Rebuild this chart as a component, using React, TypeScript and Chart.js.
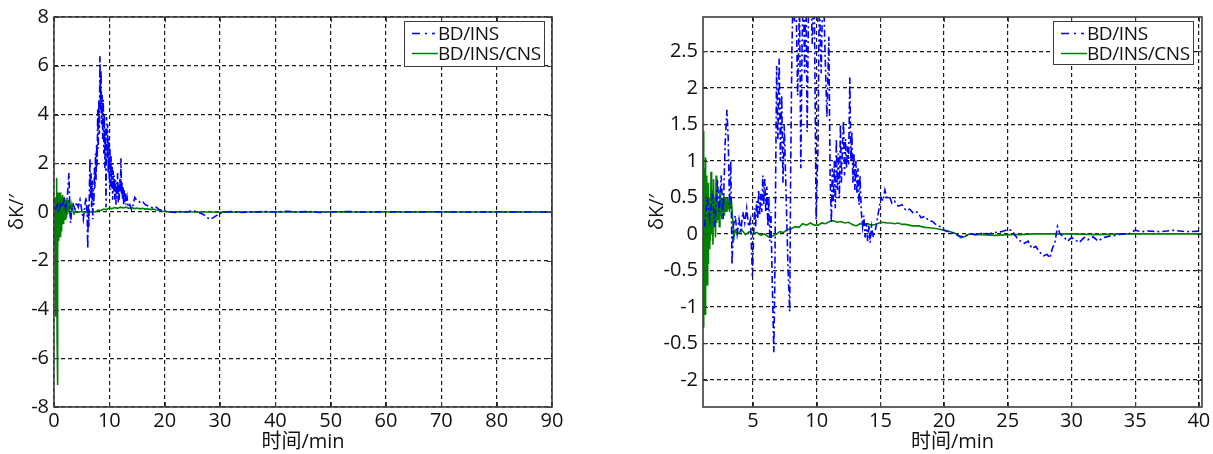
import React, { useEffect, useRef } from 'react';
import { Chart, registerables } from 'chart.js';

Chart.register(...registerables);

// ---------- Left chart data (0-90 min) ----------
const leftXTicks = [0, 10, 20, 30, 40, 50, 60, 70, 80, 90];
const leftYTicks = [-8, -6, -4, -2, 0, 2, 4, 6, 8];
const leftYTickLabels = ['-8', '-6', '-4', '-2', '0', '2', '4', '6', '8'];

const leftInsT = [0.3, 0.6, 0.9, 1.2, 1.5, 1.8, 2.1, 2.4, 2.7, 2.85, 3.0, 3.2, 3.5, 3.8, 4.1, 4.4, 4.7, 5.0, 5.3, 5.6, 5.8, 6.0, 6.1, 6.2, 6.3, 6.4, 6.5, 6.6, 6.7, 6.8, 6.9, 7.0, 7.1, 7.2, 7.3, 7.4, 7.5, 7.6, 7.7, 7.8, 7.9, 8.0, 8.1, 8.2, 8.3, 8.4, 8.5, 8.6, 8.7, 8.8, 8.9, 9.0, 9.1, 9.2, 9.3, 9.4, 9.5, 9.6, 9.7, 9.8, 9.9, 10.0, 10.1, 10.2, 10.3, 10.4, 10.5, 10.6, 10.7, 10.8, 10.9, 11.0, 11.1, 11.2, 11.3, 11.4, 11.5, 11.6, 11.7, 11.8, 11.9, 12.0, 12.1, 12.2, 12.3, 12.4, 12.5, 12.6, 12.7, 12.8, 12.9, 13.0, 13.2, 13.4, 13.7, 14.0, 14.3, 14.6, 14.9, 15.3, 15.7, 16.1, 16.5, 17, 17.5, 18, 18.5, 19, 19.5, 20, 21, 22, 23, 24, 25, 26, 27, 27.8, 28.3, 29, 30, 31, 32, 34, 36, 38, 40, 42, 44, 46, 48, 50, 53, 56, 60, 64, 68, 72, 76, 80, 84, 88, 90];
const leftInsV = [0.1, 0.3, 0.0, 0.4, 0.2, 0.5, 0.1, 0.6, 1.6, 0.3, -0.45, 0.1, 0.3, 0.1, 0.4, 0.2, 0.5, 0.1, -0.3, 0.3, 0.6, -0.2, -1.5, 0.3, -0.6, 1.0, 2.2, 0.6, 1.6, 0.2, 1.3, -0.3, 0.9, 0.3, 1.8, 1.0, 2.4, 1.3, 2.8, 1.9, 4.2, 2.6, 4.6, 3.2, 6.4, 4.2, 5.8, 3.6, 4.8, 3.0, 4.6, 2.4, 4.0, 1.8, 3.4, 0.2, 3.9, 2.2, 3.6, 1.6, 3.0, 1.2, 2.6, 0.9, 2.3, 1.0, 2.0, 0.5, 1.7, 0.8, 1.5, 0.5, 1.3, 0.3, 1.2, 0.6, 1.6, 0.4, 1.1, 0.5, 1.4, 0.8, 2.2, 0.7, 1.2, 0.5, 1.0, 0.3, 0.9, 0.4, 0.8, 0.3, 0.6, 0.2, 0.3, 0.1, 0.3, 0.6, 0.5, 0.45, 0.35, 0.4, 0.3, 0.25, 0.2, 0.15, 0.2, 0.1, 0.08, 0.05, 0.0, -0.02, 0.02, 0.0, 0.05, 0.0, -0.1, -0.25, -0.3, -0.2, -0.05, 0.0, 0.02, -0.02, 0.0, 0.02, 0.0, 0.03, 0.0, 0.02, -0.02, 0.0, 0.02, 0.0, 0.01, 0.0, 0.01, 0.0, 0.0, 0.01, 0.0, 0.0, 0.0];

const leftCnsT = [0.04, 0.08, 0.12, 0.16, 0.2, 0.24, 0.28, 0.32, 0.36, 0.4, 0.44, 0.48, 0.52, 0.56, 0.6, 0.64, 0.68, 0.72, 0.76, 0.8, 0.85, 0.9, 0.95, 1.0, 1.05, 1.1, 1.15, 1.2, 1.25, 1.3, 1.35, 1.4, 1.45, 1.5, 1.55, 1.6, 1.65, 1.7, 1.75, 1.8, 1.85, 1.9, 1.95, 2.0, 2.05, 2.1, 2.15, 2.2, 2.25, 2.3, 2.35, 2.4, 2.45, 2.5, 2.55, 2.6, 2.7, 2.8, 2.9, 3.0, 3.1, 3.2, 3.3, 3.45, 3.6, 3.8, 4, 5, 6, 6.5, 7, 7.5, 8, 8.5, 9, 9.5, 10, 10.5, 11, 11.5, 12, 12.5, 13, 13.5, 14, 14.5, 15, 15.5, 16, 16.5, 17, 17.5, 18, 18.5, 19, 19.5, 20, 21, 23, 25, 28, 30, 35, 40, 50, 60, 70, 80, 90];
const leftCnsV = [0.6, -1.3, 0.5, -1.4, 0.4, -2.6, 0.2, -4.3, -0.8, 0.6, -2.0, 0.9, 1.4, -5.2, 0.7, -7.1, 0.4, -1.6, 0.8, -1.2, 0.7, -1.0, 0.8, -0.9, 0.6, -1.0, 0.7, -0.7, 0.8, -0.6, 0.5, -0.8, 0.6, -0.5, 0.7, -0.4, 0.5, -0.5, 0.6, -0.3, 0.5, -0.2, 0.6, -0.3, 0.5, -0.1, 0.5, -0.2, 0.4, 0.0, 0.5, -0.1, 0.4, 0.1, 0.5, 0.0, 0.4, 0.1, 0.35, 0.1, 0.3, 0.15, 0.25, 0.0, -0.05, 0.0, -0.02, 0.02, -0.03, 0.0, 0.02, 0.0, 0.08, 0.06, 0.12, 0.1, 0.16, 0.14, 0.18, 0.15, 0.2, 0.17, 0.2, 0.15, 0.18, 0.14, 0.16, 0.13, 0.15, 0.12, 0.13, 0.1, 0.12, 0.08, 0.07, 0.04, 0.02, 0.0, 0.01, 0.0, 0.0, -0.01, 0.0, 0.0, 0.0, 0.0, 0.0, 0.0, 0.0];

// ---------- Right chart data (1-40 min) ----------
const rightXTicks = [5, 10, 15, 20, 25, 30, 35, 40];
const rightYTicks = [-2, -1.5, -1, -0.5, 0, 0.5, 1, 1.5, 2, 2.5];
const rightYTickLabels = ['-2', '-0.5', '-1', '-0.5', '0', '0.5', '1', '1.5', '2', '2.5'];

const rightInsT = [1.2, 1.4, 1.6, 1.8, 2.0, 2.2, 2.35, 2.5, 2.65, 2.8, 2.95, 3.05, 3.15, 3.25, 3.35, 3.45, 3.6, 3.75, 3.9, 4.05, 4.2, 4.35, 4.5, 4.65, 4.8, 4.95, 5.05, 5.12, 5.2, 5.28, 5.36, 5.44, 5.52, 5.6, 5.68, 5.76, 5.84, 5.92, 6.0, 6.08, 6.16, 6.24, 6.32, 6.4, 6.5, 6.63, 6.7, 6.78, 6.85, 6.95, 7.05, 7.15, 7.25, 7.35, 7.45, 7.6, 7.75, 7.88, 7.95, 8.05, 8.15, 8.25, 8.35, 8.5, 8.65, 8.75, 8.85, 8.95, 9.05, 9.15, 9.25, 9.35, 9.5, 9.65, 9.8, 9.95, 10.1, 10.2, 10.35, 10.5, 10.65, 10.8, 10.95, 11.05, 11.15, 11.22, 11.3, 11.38, 11.46, 11.54, 11.62, 11.7, 11.78, 11.86, 11.94, 12.02, 12.1, 12.18, 12.26, 12.34, 12.42, 12.5, 12.6, 12.68, 12.76, 12.84, 12.92, 13.0, 13.08, 13.16, 13.24, 13.32, 13.4, 13.5, 13.6, 13.7, 13.8, 13.9, 14.0, 14.1, 14.2, 14.3, 14.45, 14.6, 14.75, 14.9, 15.05, 15.2, 15.35, 15.5, 15.7, 15.9, 16.1, 16.4, 16.7, 17.0, 17.3, 17.6, 17.9, 18.2, 18.5, 18.8, 19.1, 19.4, 19.7, 20.0, 20.4, 20.8, 21.2, 21.5, 22.0, 22.5, 23.0, 23.5, 24.0, 24.5, 25.0, 25.3, 25.7, 26.0, 26.3, 26.6, 26.9, 27.2, 27.5, 27.8, 28.1, 28.3, 28.5, 28.7, 28.9, 29.1, 29.4, 29.7, 30.0, 30.3, 30.6, 31.0, 31.3, 31.7, 32.1, 32.5, 33.0, 33.5, 34.0, 34.5, 35.0, 35.5, 36.0, 37, 38, 39, 40.2];
const rightInsV = [0.1, 0.5, 0.2, 0.55, 0.1, 0.75, 0.3, 0.8, 0.2, 1.2, 1.7, 1.3, 0.4, 1.0, -0.42, 0.1, 0.25, 0.0, 0.2, 0.05, 0.3, 0.15, 0.35, 0.1, 0.2, -0.58, 0.0, 0.35, 0.1, 0.45, 0.2, 0.6, 0.25, 0.55, 0.3, 0.8, 0.4, 0.75, 0.3, 0.65, 0.1, 0.5, -0.1, 0.3, -0.6, -1.62, -0.8, 0.9, 2.3, 1.3, 2.4, 1.0, 1.9, 0.7, 1.5, 0.5, -0.5, -1.06, 0.8, 2.5, 3.4, 2.9, 3.5, 1.9, 3.2, 0.9, 2.6, 3.4, 2.2, 3.5, 1.4, 3.0, 3.6, 2.6, 3.5, 0.2, 1.2, 3.3, 2.2, 3.6, 2.5, 1.6, 2.7, 0.8, 0.15, 0.9, 0.45, 1.0, 0.35, 1.3, 0.6, 1.1, 0.5, 1.5, 0.7, 1.2, 1.55, 0.8, 1.3, 0.9, 1.2, 0.95, 2.14, 1.0, 1.4, 0.7, 1.1, 0.6, 1.0, 0.55, 0.9, 0.4, 0.8, 0.3, 0.1, 0.25, -0.05, 0.15, -0.1, 0.12, -0.12, 0.1, -0.05, 0.05, 0.2, 0.35, 0.5, 0.45, 0.6, 0.5, 0.52, 0.42, 0.45, 0.38, 0.4, 0.32, 0.34, 0.28, 0.3, 0.22, 0.24, 0.18, 0.17, 0.12, 0.1, 0.05, 0.03, 0.0, -0.03, -0.04, 0.0, -0.01, 0.01, 0.0, 0.02, 0.03, 0.06, 0.05, -0.05, -0.1, -0.13, -0.1, -0.2, -0.17, -0.25, -0.3, -0.28, -0.33, -0.2, -0.12, 0.1, 0.0, -0.04, -0.1, -0.05, -0.08, -0.12, -0.05, -0.08, -0.04, -0.1, -0.05, -0.03, -0.02, 0.0, 0.0, 0.05, 0.03, 0.04, 0.03, 0.05, 0.03, 0.04];

const rightCnsT = [1.08, 1.11, 1.14, 1.17, 1.2, 1.23, 1.26, 1.29, 1.32, 1.35, 1.38, 1.41, 1.44, 1.47, 1.5, 1.55, 1.6, 1.65, 1.7, 1.75, 1.8, 1.85, 1.9, 1.95, 2.0, 2.05, 2.1, 2.15, 2.2, 2.25, 2.3, 2.35, 2.4, 2.45, 2.5, 2.55, 2.6, 2.65, 2.7, 2.75, 2.8, 2.85, 2.9, 2.95, 3.0, 3.05, 3.1, 3.15, 3.2, 3.25, 3.3, 3.4, 3.5, 3.6, 3.8, 4.1, 4.4, 4.7, 5.0, 5.3, 5.6, 5.9, 6.2, 6.5, 6.8, 7.1, 7.4, 7.7, 8.0, 8.3, 8.6, 8.9, 9.2, 9.5, 9.8, 10.1, 10.4, 10.7, 11.0, 11.3, 11.6, 11.9, 12.2, 12.5, 12.8, 13.1, 13.4, 13.7, 14.0, 14.3, 14.6, 14.9, 15.2, 15.5, 15.8, 16.1, 16.4, 16.7, 17.0, 17.5, 18.0, 18.5, 19.0, 19.5, 20.0, 20.5, 21.0, 21.3, 21.6, 22.0, 22.5, 23, 24, 25, 26, 27, 28, 30, 32, 34, 36, 38, 40.2];
const rightCnsV = [1.41, -1.28, 1.1, -0.9, 0.9, -1.1, 1.05, -0.85, 0.7, -0.6, 0.8, -0.7, 0.6, -0.4, 0.7, -0.2, 0.5, -0.1, 0.85, 0.0, 0.6, -0.15, 0.75, 0.1, 0.5, -0.05, 0.8, 0.15, 0.55, 0.2, 0.45, 0.1, 0.6, 0.25, 0.5, 0.2, 0.45, 0.3, 0.55, 0.25, 0.5, 0.3, 0.45, 0.3, 0.5, 0.35, 0.45, 0.3, 0.4, 0.35, 0.45, 0.2, -0.05, 0.05, 0.0, 0.06, -0.01, 0.03, 0.0, 0.02, -0.02, 0.0, -0.04, -0.03, -0.01, 0.03, 0.02, 0.06, 0.07, 0.1, 0.09, 0.14, 0.12, 0.15, 0.12, 0.12, 0.15, 0.14, 0.17, 0.18, 0.16, 0.17, 0.15, 0.16, 0.13, 0.11, 0.14, 0.13, 0.14, 0.12, 0.13, 0.15, 0.16, 0.15, 0.15, 0.14, 0.15, 0.13, 0.13, 0.11, 0.11, 0.09, 0.08, 0.07, 0.05, 0.03, 0.0, -0.05, -0.04, 0.0, -0.01, -0.01, -0.02, -0.01, -0.01, 0.0, 0.0, 0.0, -0.01, 0.0, 0.0, 0.0, 0.0];

const seriesNames = ['BD/INS', 'BD/INS/CNS'];
const insColor = '#0000ff';
const cnsColor = '#008000';
const axisTitleX = '时间/min';
const axisTitleY = 'δK/′';

const FONT_FAMILY = "'Open Sans', 'Noto Sans CJK SC', 'DejaVu Sans', sans-serif";
const TEXT_COLOR = '#111111';
const FRAME_COLOR = '#3c3c3c';

const framePlugin = {
  id: 'matlabFrame',
  afterDraw(chart: any) {
    const { ctx, chartArea: a, scales } = chart;
    ctx.save();
    ctx.setLineDash([]);
    ctx.strokeStyle = FRAME_COLOR;
    ctx.lineWidth = 1;
    const line = (x1: number, y1: number, x2: number, y2: number) => {
      ctx.beginPath();
      ctx.moveTo(x1, y1);
      ctx.lineTo(x2, y2);
      ctx.stroke();
    };
    scales.x.ticks.forEach((t: any) => {
      const px = Math.round(scales.x.getPixelForValue(t.value)) + 0.5;
      line(px, a.top, px, a.top + 5);
      line(px, a.bottom, px, a.bottom - 5);
    });
    scales.y.ticks.forEach((t: any) => {
      const py = Math.round(scales.y.getPixelForValue(t.value)) + 0.5;
      line(a.left, py, a.left + 5, py);
      line(a.right, py, a.right - 5, py);
    });
    ctx.lineWidth = 1.6;
    ctx.strokeRect(a.left, a.top, a.right - a.left, a.bottom - a.top);
    ctx.restore();
  },
};

interface PanelProps {
  left: number;
  width: number;
  xMin: number;
  xMax: number;
  yMin: number;
  yMax: number;
  xTicks: number[];
  yTicks: number[];
  yTickLabels: string[];
  insT: number[];
  insV: number[];
  cnsT: number[];
  cnsV: number[];
  yAxisWidth: number;
  padTop: number;
  padRight: number;
  xAxisHeight: number;
  yTitlePad: number;
  legendLeft: number;
  legendTop: number;
  legendWidth: number;
  legendHeight: number;
}

function Panel(p: PanelProps) {
  const ref = useRef<HTMLCanvasElement | null>(null);
  useEffect(() => {
    if (!ref.current) return;
    const font = { family: FONT_FAMILY, size: 20 };
    const gridOpts = { color: '#1a1a1a', lineWidth: 1.2, drawTicks: false };
    const chart = new Chart(ref.current, {
      type: 'line',
      data: {
        datasets: [
          {
            label: seriesNames[0],
            data: p.insT.map((t, i) => ({ x: t, y: p.insV[i] })),
            borderColor: insColor,
            borderWidth: 1.6,
            borderDash: [7, 3, 2, 3],
            pointRadius: 0,
            tension: 0,
            fill: false,
          },
          {
            label: seriesNames[1],
            data: p.cnsT.map((t, i) => ({ x: t, y: p.cnsV[i] })),
            borderColor: cnsColor,
            borderWidth: 1.6,
            pointRadius: 0,
            tension: 0,
            fill: false,
          },
        ],
      },
      options: {
        animation: false,
        responsive: false,
        maintainAspectRatio: false,
        events: [],
        layout: { padding: { left: 0, top: p.padTop, right: p.padRight, bottom: 0 } },
        plugins: { legend: { display: false }, tooltip: { enabled: false } },
        scales: {
          x: {
            type: 'linear',
            min: p.xMin,
            max: p.xMax,
            afterBuildTicks: (s: any) => {
              s.ticks = p.xTicks.map((v) => ({ value: v }));
            },
            afterFit: (s: any) => {
              s.height = p.xAxisHeight;
            },
            ticks: {
              font,
              color: TEXT_COLOR,
              padding: 2,
              maxRotation: 0,
              autoSkip: false,
              includeBounds: false,
              callback: (v: any) => String(v),
            },
            grid: gridOpts,
            border: { display: false, dash: [4, 3] },
            title: {
              display: true,
              text: axisTitleX,
              font,
              color: TEXT_COLOR,
              padding: { top: 0, bottom: 0 },
            },
          },
          y: {
            type: 'linear',
            min: p.yMin,
            max: p.yMax,
            afterBuildTicks: (s: any) => {
              s.ticks = p.yTicks.map((v) => ({ value: v }));
            },
            afterFit: (s: any) => {
              s.width = p.yAxisWidth;
            },
            ticks: {
              font,
              color: TEXT_COLOR,
              padding: 5,
              autoSkip: false,
              includeBounds: false,
              callback: (v: any) => {
                const idx = p.yTicks.findIndex((t) => Math.abs(t - Number(v)) < 1e-9);
                return idx >= 0 ? p.yTickLabels[idx] : '';
              },
            },
            grid: gridOpts,
            border: { display: false, dash: [4, 3] },
            title: {
              display: true,
              text: axisTitleY,
              font,
              color: TEXT_COLOR,
              padding: { top: p.yTitlePad, bottom: 0 },
            },
          },
        },
      },
      plugins: [framePlugin],
    } as any);
    return () => chart.destroy();
  }, []);

  return (
    <div style={{ position: 'absolute', left: p.left, top: 0, width: p.width, height: 454 }}>
      <canvas ref={ref} width={p.width} height={454} style={{ display: 'block' }} />
      <div
        style={{
          position: 'absolute',
          left: p.legendLeft - p.left,
          top: p.legendTop,
          width: p.legendWidth,
          height: p.legendHeight,
          border: `1.5px solid ${FRAME_COLOR}`,
          background: '#fff',
          boxSizing: 'border-box',
          fontFamily: FONT_FAMILY,
          fontSize: 19,
          color: TEXT_COLOR,
          lineHeight: '20px',
          paddingTop: 1,
        }}
      >
        {seriesNames.map((name, i) => (
          <div key={name} style={{ display: 'flex', alignItems: 'center', height: 20, whiteSpace: 'nowrap' }}>
            <svg width={28} height={20} style={{ marginLeft: 5, flex: 'none' }}>
              <line
                x1={2}
                y1={10.5}
                x2={i === 0 ? 25 : 28}
                y2={10.5}
                stroke={i === 0 ? insColor : cnsColor}
                strokeWidth={1.5}
                strokeDasharray={i === 0 ? '8 5 2 5' : undefined}
              />
            </svg>
            <span style={{ letterSpacing: '-0.4px' }}>{name}</span>
          </div>
        ))}
      </div>
    </div>
  );
}

export default function App() {
  return (
    <div style={{ position: 'absolute', left: 0, top: 0, width: 1213, height: 454, background: '#fff', overflow: 'hidden' }}>
      <Panel
        left={0}
        width={620}
        xMin={0}
        xMax={90}
        yMin={-8}
        yMax={8}
        xTicks={leftXTicks}
        yTicks={leftYTicks}
        yTickLabels={leftYTickLabels}
        insT={leftInsT}
        insV={leftInsV}
        cnsT={leftCnsT}
        cnsV={leftCnsV}
        yAxisWidth={54}
        padTop={15}
        padRight={68}
        xAxisHeight={47}
        yTitlePad={5}
        legendLeft={404}
        legendTop={21}
        legendWidth={141}
        legendHeight={46}
      />
      <Panel
        left={620}
        width={593}
        xMin={1.07}
        xMax={40.25}
        yMin={-2.37}
        yMax={2.97}
        xTicks={rightXTicks}
        yTicks={rightYTicks}
        yTickLabels={rightYTickLabels}
        insT={rightInsT}
        insV={rightInsV}
        cnsT={rightCnsT}
        cnsV={rightCnsV}
        yAxisWidth={83}
        padTop={14}
        padRight={11}
        xAxisHeight={47}
        yTitlePad={25}
        legendLeft={1053}
        legendTop={21}
        legendWidth={141}
        legendHeight={44}
      />
    </div>
  );
}
